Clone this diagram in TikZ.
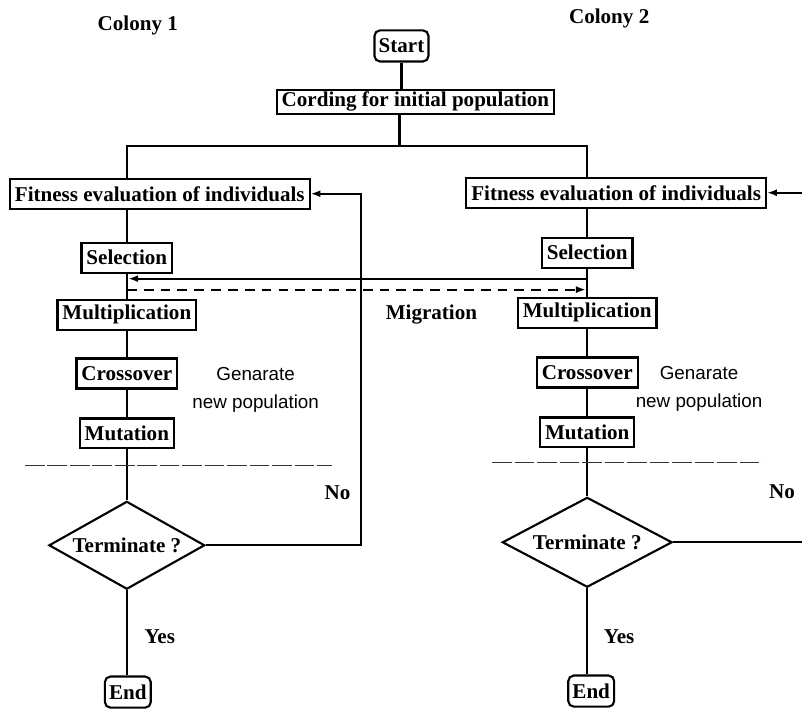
\documentclass[tikz,border=0pt]{standalone}
\usepackage{fontspec}
\setmainfont{Liberation Serif}
\newfontfamily\notefont{Liberation Sans}
\usetikzlibrary{shapes.geometric,arrows.meta}

\begin{document}
\begin{tikzpicture}[
  x=0.025cm, y=-0.025cm,
  >={Latex[length=7pt,width=5pt]},
  line width=1.5pt,
  every node/.style={font=\fontsize{15}{18}\selectfont\bfseries},
  stage/.style={draw, rectangle, inner xsep=3.5pt, inner ysep=2pt, minimum height=0.75cm},
  terminal/.style={draw, rounded corners=4pt, inner xsep=3pt, inner ysep=2pt, minimum height=0.78cm},
  decision/.style={draw, diamond, inner sep=0pt, shape aspect=1.8, minimum width=3.9cm, minimum height=2.2cm},
  note/.style={font=\notefont\fontsize{13.4}{20}\selectfont, align=center},
  sepline/.style={line width=0.8pt, black!80, dash pattern=on 14pt off 2pt}
]
\path[fill=white] (0,0) rectangle (803,710);

\node (col1) at (138,25) {Colony 1};
\node (col2) at (610,18) {Colony 2};

\node[terminal] (start) at (402,46) {Start};
\node[stage, minimum height=0.6cm, inner ysep=1pt] (cord) at (416,102) {Cording for initial population};
\coordinate (split) at (400,146);

\node[stage] (fit1) at (160,194) {Fitness evaluation of individuals};
\node[stage] (sel1) at (127,258) {Selection};
\node[stage] (mult1) at (127,315) {Multiplication};
\node[stage] (cross1) at (127,374) {Crossover};
\node[stage] (mut1) at (127,434) {Mutation};
\node[decision] (term1) at (127,546) {Terminate ?};
\node[terminal] (end1) at (128,693) {End};

\node[stage] (fit2) at (617,193) {Fitness evaluation of individuals};
\node[stage] (sel2) at (588,253) {Selection};
\node[stage] (mult2) at (588,313) {Multiplication};
\node[stage] (cross2) at (588,373) {Crossover};
\node[stage] (mut2) at (588,433) {Mutation};
\node[decision, minimum width=4.25cm, minimum height=2.25cm] (term2) at (588,543) {Terminate ?};
\node[terminal] (end2) at (592,692) {End};

\node[note] (gen1) at (256,390) {Genarate\\new population};
\node[note] (gen2) at (700,389) {Genarate\\new population};
\node (mig) at (432,315) {Migration};
\node (no1) at (338,493) {No};
\node (no2) at (783,492) {No};
\node (yes1) at (160,638) {Yes};
\node (yes2) at (620,638) {Yes};

\draw (start.south) -- (start.south |- cord.north);
\draw (cord.south -| split) -- (split);
\draw (fit1.north -| sel1) |- (split) -| (fit2.north -| sel2);

\draw (fit1.south -| sel1) -- (sel1) -- (mult1) -- (cross1) -- (mut1) -- (term1) -- (end1.north -| term1);
\draw (fit2.south -| sel2) -- (sel2) -- (mult2) -- (cross2) -- (mut2) -- (term2) -- (end2.north -| term2);

\draw[->] (term1.east) -- ++(155,0) |- (fit1.east);

\coordinate (exit2) at (803,543);
\coordinate (entry2) at (803,193);
\draw (term2.east) -- (exit2);
\draw[->] (entry2) -- (fit2.east);

\coordinate (back1) at (127,279);
\coordinate (back2) at (588,279);
\coordinate (send1) at (127,290);
\coordinate (send2) at (588,290);
\draw[->, shorten >=1pt] (back2) -- (back1);
\draw[->, dash pattern=on 7pt off 5pt, shorten >=1pt] (send1) -- (send2);

\draw[sepline] (25,466) -- (332,466);
\draw[sepline] (493,463) -- (763,463);
\end{tikzpicture}
\end{document}
